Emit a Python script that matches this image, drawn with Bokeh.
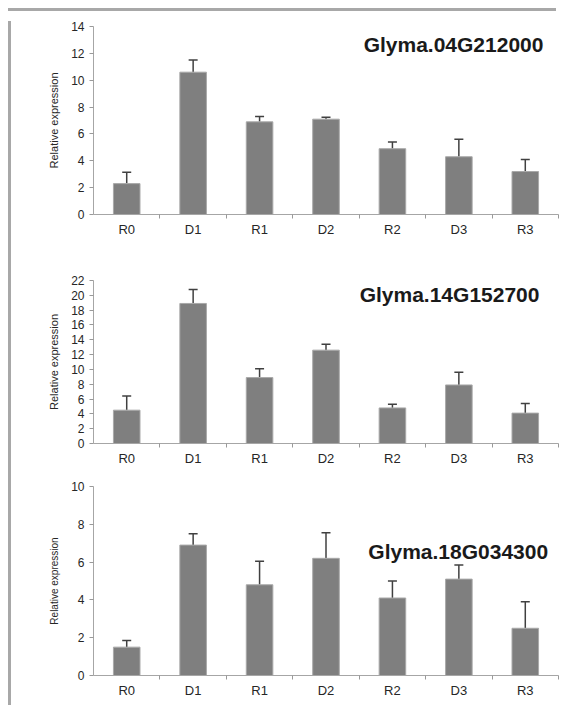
import numpy as np
from bokeh.plotting import figure
from bokeh.models import (ColumnDataSource, FixedTicker, Whisker, TeeHead, Label,
                          Range1d, Div, Spacer)
from bokeh.layouts import column, row
from bokeh.embed import file_html
from bokeh.resources import INLINE

categories = ["R0", "D1", "R1", "D2", "R2", "D3", "R3"]
gene_names = ["Glyma.04G212000", "Glyma.14G152700", "Glyma.18G034300"]

mean_04G212000 = [2.3, 10.6, 6.9, 7.1, 4.9, 4.3, 3.2]
sd_04G212000 = [0.85, 0.9, 0.4, 0.15, 0.5, 1.3, 0.9]

mean_14G152700 = [4.5, 18.9, 8.9, 12.6, 4.8, 7.9, 4.1]
sd_14G152700 = [1.9, 1.9, 1.2, 0.8, 0.5, 1.7, 1.3]

mean_18G034300 = [1.5, 6.9, 4.8, 6.2, 4.1, 5.1, 2.5]
sd_18G034300 = [0.35, 0.6, 1.25, 1.35, 0.9, 0.75, 1.4]

y_max = [14, 22, 10]
y_step = [2, 2, 2]
y_label = "Relative expression"

FONT = "Liberation Sans"
FIG_W = 545


def make_panel(means, sds, gene, ymax, step, height, b_top, b_bottom,
               title_xy, ylabel_size):
    n = len(categories)
    xc = np.arange(n) + 0.5
    means = np.array(means)
    sds = np.array(sds)
    src = ColumnDataSource(dict(x=xc, top=means, upper=means + sds))
    p = figure(width=FIG_W, height=height, output_backend="svg",
               toolbar_location=None,
               x_range=Range1d(0, n), y_range=Range1d(0, ymax),
               min_border_left=77, min_border_right=3,
               min_border_top=b_top, min_border_bottom=b_bottom)
    p.outline_line_color = None
    p.grid.visible = False
    p.background_fill_color = "white"
    p.border_fill_color = "white"

    p.vbar(x="x", top="top", width=0.4, bottom=0, source=src,
           fill_color="#7f7f7f", line_color="#a9a9a9", line_width=1)
    wh = Whisker(base="x", lower="top", upper="upper", source=src,
                 line_color="#404040", line_width=1.5,
                 upper_head=TeeHead(size=9, line_color="#404040", line_width=1.5),
                 lower_head=None)
    p.add_layout(wh)

    # x axis
    xa = p.xaxis[0]
    xa.ticker = FixedTicker(ticks=list(xc), minor_ticks=list(range(1, n + 1)))
    xa.major_label_overrides = {float(x): c for x, c in zip(xc, categories)}
    xa.major_tick_out = 0
    xa.major_tick_in = 0
    xa.minor_tick_out = 4
    xa.minor_tick_in = 0
    xa.minor_tick_line_color = "#999999"
    xa.axis_line_color = "#a6a6a6"
    xa.major_label_text_font = FONT
    xa.major_label_text_font_size = "13px"
    xa.major_label_text_color = "#262626"
    xa.major_label_standoff = 3

    # y axis
    ya = p.yaxis[0]
    ya.ticker = FixedTicker(ticks=list(range(0, ymax + 1, step)))
    ya.minor_tick_line_color = None
    ya.major_tick_out = 4
    ya.major_tick_in = 0
    ya.major_tick_line_color = "#999999"
    ya.axis_line_color = "#a6a6a6"
    ya.major_label_text_font = FONT
    ya.major_label_text_font_size = "12px"
    ya.major_label_text_color = "#262626"
    ya.major_label_standoff = 5
    ya.axis_label = y_label
    ya.axis_label_text_font = FONT
    ya.axis_label_text_font_style = "normal"
    ya.axis_label_text_font_size = ylabel_size
    ya.axis_label_text_color = "#262626"
    ya.axis_label_standoff = 8

    p.add_layout(Label(x=title_xy[0], y=title_xy[1], text=gene,
                       text_font=FONT, text_font_size="21px",
                       text_font_style="bold", text_color="#1a1a1a",
                       text_align="center", text_baseline="middle"))
    return p


p1 = make_panel(mean_04G212000, sd_04G212000, gene_names[0], y_max[0], y_step[0],
                223, 10, 25, (5.42, 12.65), "11px")
p2 = make_panel(mean_14G152700, sd_14G152700, gene_names[1], y_max[1], y_step[1],
                229, 41, 22, (5.36, 20.15), "11px")
p3 = make_panel(mean_18G034300, sd_18G034300, gene_names[2], y_max[2], y_step[2],
                232, 18, 17, (5.49, 6.55), "10px")

FRAME = "#a8a8a8"
top_line = Div(text="", width=548, height=3,
               styles={"background-color": FRAME})
left_line = Div(text="", width=3, height=684,
                styles={"background-color": FRAME})

layout = column(
    Spacer(width=3, height=3),
    row(Spacer(width=3, height=3), top_line, spacing=0),
    row(Spacer(width=3, height=3), left_line, column(p1, p2, p3, spacing=0), spacing=0),
    spacing=0,
)

open("out.html", "w").write(file_html(layout, INLINE))
